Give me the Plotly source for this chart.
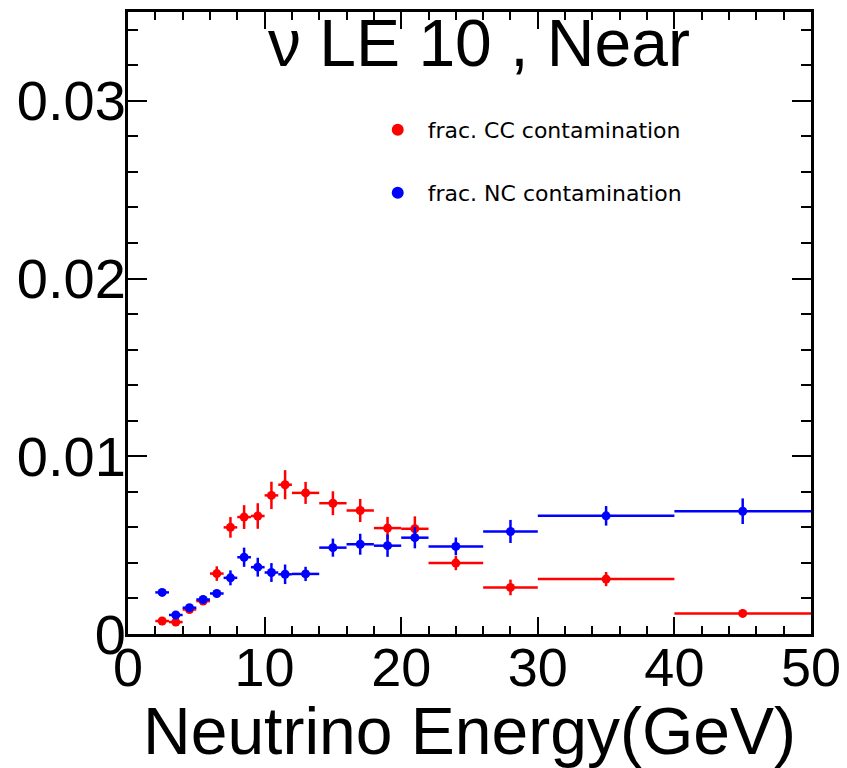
import plotly.graph_objects as go

# Bin edges (GeV)
bin_edges = [2, 3, 4, 5, 6, 7, 8, 9, 10, 11, 12, 14, 16, 18, 20, 22, 26, 30, 40, 50]

# fractional CC contamination
cc_vals = [0.00073, 0.00067, 0.00138, 0.00185, 0.0034, 0.0060, 0.00658, 0.00664, 0.0078, 0.0084,
           0.00794, 0.00736, 0.00695, 0.00596, 0.00592, 0.00399, 0.00262, 0.00309, 0.00116]
cc_errs = [0.00015, 0.00015, 0.00018, 0.0002, 0.00041, 0.00058, 0.00067, 0.00072, 0.00077, 0.00082,
           0.00062, 0.00067, 0.00065, 0.00063, 0.0007, 0.0004, 0.00044, 0.0004, 0.00022]

# fractional NC contamination
nc_vals = [0.00234, 0.00107, 0.00148, 0.00194, 0.00228, 0.00316, 0.00432, 0.00376, 0.00346, 0.00336,
           0.00338, 0.00486, 0.00505, 0.00497, 0.00542, 0.00493, 0.00577, 0.00665, 0.00691]
nc_errs = [0.0001, 0.00018, 0.0002, 0.0002, 0.0002, 0.00042, 0.00054, 0.00053, 0.00053, 0.00055,
           0.0004, 0.00051, 0.00059, 0.00063, 0.0006, 0.0005, 0.00065, 0.00055, 0.00072]

x_tick_vals = [0, 10, 20, 30, 40, 50]
y_tick_vals = [0, 0.01, 0.02, 0.03]
y_tick_text = ["0", "0.01", "0.02", "0.03"]

centers = [(a + b) / 2 for a, b in zip(bin_edges[:-1], bin_edges[1:])]
halfw = [(b - a) / 2 for a, b in zip(bin_edges[:-1], bin_edges[1:])]

fig = go.Figure()


def add_series(vals, errs, color, name, legend):
    fig.add_trace(go.Scatter(
        x=centers, y=vals, mode="markers", name=name, legend=legend, showlegend=True,
        marker=dict(color=color, size=9, symbol="circle"),
        error_y=dict(type="data", array=errs, color=color, thickness=2.5, width=0),
        error_x=dict(type="data", array=halfw, color=color, thickness=2.5, width=0),
    ))


add_series(cc_vals, cc_errs, "#ff0000", "frac. CC contamination", "legend")
add_series(nc_vals, nc_errs, "#0000ff", "frac. NC contamination", "legend2")

legend_font = dict(family="DejaVu Sans, Arial", size=22, color="black")
common_leg = dict(xanchor="left", yanchor="middle", bgcolor="rgba(0,0,0,0)",
                  itemwidth=50, font=legend_font, itemsizing="constant", visible=True)

fig.update_layout(
    width=847, height=768,
    margin=dict(l=128, r=36, t=12, b=134),
    paper_bgcolor="white", plot_bgcolor="white",
    showlegend=True,
    font=dict(family="Liberation Sans, Arial", color="black"),
    legend=dict(x=0.351, y=1 - (130 - 12) / 622, **common_leg),
    legend2=dict(x=0.351, y=1 - (193 - 12) / 622, **common_leg),
    xaxis=dict(
        range=[0, 50], tickvals=x_tick_vals, ticks="inside", ticklen=17, tickwidth=1.5,
        tickcolor="black", showline=True, linewidth=3, linecolor="black", mirror="allticks",
        showgrid=False, zeroline=False, automargin=False, ticklabelstandoff=-16,
        tickfont=dict(family="Liberation Sans, Arial", size=54),
        minor=dict(dtick=2, ticks="inside", ticklen=8, tickwidth=1.5, tickcolor="black", showgrid=False),
        title=dict(text="Neutrino Energy(GeV)", font=dict(family="Liberation Sans, Arial", size=66), standoff=0),
    ),
    yaxis=dict(
        range=[0, 0.035], tickvals=y_tick_vals, ticktext=y_tick_text, ticks="inside", ticklen=19,
        tickwidth=1.5, tickcolor="black", showline=True, linewidth=3, linecolor="black",
        mirror="allticks", showgrid=False, zeroline=False, automargin=False, ticklabelstandoff=-12,
        tickfont=dict(family="Liberation Sans, Arial", size=56),
        minor=dict(dtick=0.002, ticks="inside", ticklen=10, tickwidth=1.5, tickcolor="black", showgrid=False),
    ),
    annotations=[dict(
        text="ν LE 10 , Near", x=0.514, y=1 - (43 - 12) / 622, xref="paper", yref="paper",
        xanchor="center", yanchor="middle", showarrow=False,
        font=dict(family="Liberation Sans, Arial", size=66, color="black"),
    )],
)

fig.write_html("out.html")
